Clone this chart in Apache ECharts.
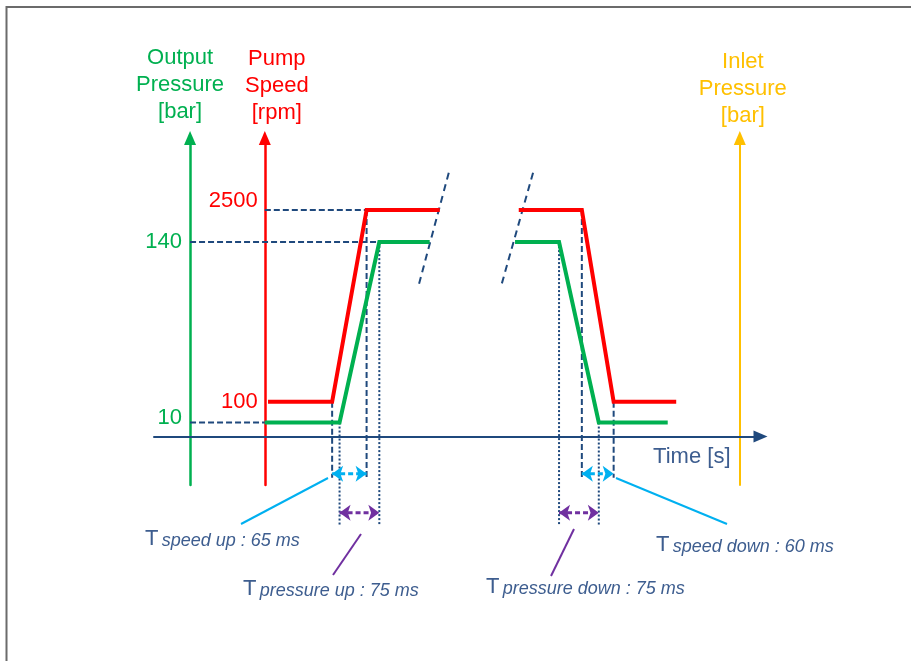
<!DOCTYPE html>
<html>
<head>
<meta charset="utf-8">
<script src="https://cdn.jsdelivr.net/npm/echarts@6/dist/echarts.min.js"></script>
<style>
  html, body { margin: 0; padding: 0; background: #fff; }
  #chart { width: 911px; height: 661px; }
</style>
</head>
<body>
<div id="chart"></div>
<script>
// ---- values (time in ms, speed in rpm, pressure in bar) ----
const timeRangeMs = [0, 1144];
const rampLabels = ['speed up', 'pressure up', 'pressure down', 'speed down'];
const rampStartMs = [336, 350, 764, 807];
const rampDurationMs = [65, 75, 75, 60];
const speedLevelsRpm = [100, 2500];
const pressureLevelsBar = [10, 140];
const speedSpanMs = [[215, 539], [688, 985]];     // extent of the start-up and shut-down speed traces
const pressureSpanMs = [[209, 520], [681, 969]];  // extent of the start-up and shut-down pressure traces
const axisAtMs = { pressure: 68, speed: 209, inlet: 1105 }; // where the vertical axes cross the time line
const breakMarks = [[[556, 190], [500, 110]], [[715, 190], [656, 110]]]; // "//" time break, in (ms, bar)

// ---- styling ----
const FONT = '"Liberation Sans", Arial, sans-serif';
const GREEN = '#00b050', RED = '#ff0000', AMBER = '#ffc000';
const NAVY = '#1f497d', CYAN = '#00b0f0', PURPLE = '#7030a0', INK = '#3d5d8f';
const W = 911, H = 661;
const GRID = { left: 154, right: 150.5, top: 138, bottom: 176 };
const gridW = W - GRID.left - GRID.right;
const tToX = t => GRID.left + (t - timeRangeMs[0]) / (timeRangeMs[1] - timeRangeMs[0]) * gridW;

// ---- traces built from the ramp timings ----
const [spLow, spHigh] = speedLevelsRpm;
const [prLow, prHigh] = pressureLevelsBar;
const rampEnd = i => rampStartMs[i] + rampDurationMs[i];

const speedRise = [[speedSpanMs[0][0], spLow], [rampStartMs[0], spLow], [rampEnd(0), spHigh], [speedSpanMs[0][1], spHigh]];
const speedFall = [[speedSpanMs[1][0], spHigh], [rampStartMs[3], spHigh], [rampEnd(3), spLow], [speedSpanMs[1][1], spLow]];
const pressRise = [[pressureSpanMs[0][0], prLow], [rampStartMs[1], prLow], [rampEnd(1), prHigh], [pressureSpanMs[0][1], prHigh]];
const pressFall = [[pressureSpanMs[1][0], prHigh], [rampStartMs[2], prHigh], [rampEnd(2), prLow], [pressureSpanMs[1][1], prLow]];

function line(yAxisIndex, data, lineStyle, extra) {
  return Object.assign({
    type: 'line', yAxisIndex, data, symbol: 'none', silent: true, clip: false,
    animation: false, lineStyle
  }, extra || {});
}

const guide = { color: NAVY, width: 2, type: [6, 3] };
const series = [
  // reference levels
  line(1, [[axisAtMs.speed, spHigh], [rampEnd(0), spHigh]], guide),
  line(0, [[axisAtMs.pressure, prHigh], [rampEnd(1), prHigh]], guide),
  line(0, [[axisAtMs.pressure, prLow], [pressureSpanMs[0][0], prLow]], guide),
  // time break
  ...breakMarks.map(m => line(0, m, { color: NAVY, width: 2, type: [7, 5] }))
];

// ramp duration markers: two drop lines and a double-headed arrow between them
rampLabels.forEach((lab, i) => {
  const isSpeed = lab.startsWith('speed');
  const rising = lab.endsWith('up');
  const yIdx = isSpeed ? 1 : 0;
  const lo = isSpeed ? spLow : prLow, hi = isSpeed ? spHigh : prHigh;
  const v0 = rising ? lo : hi, v1 = rising ? hi : lo;
  const bottom = isSpeed ? -850 : -64;
  const arrowAt = isSpeed ? -800 : -55;
  const vStyle = { color: NAVY, width: 2, type: isSpeed ? [6, 3] : [2, 2] };
  const color = isSpeed ? CYAN : PURPLE;
  series.push(line(yIdx, [[rampStartMs[i], v0], [rampStartMs[i], bottom]], vStyle));
  series.push(line(yIdx, [[rampEnd(i), v1], [rampEnd(i), bottom]], vStyle));
  series.push(line(yIdx, [
    { value: [rampStartMs[i], arrowAt], symbolRotate: 90 },
    { value: [rampEnd(i), arrowAt], symbolRotate: -90 }
  ], { color, width: 3, type: [5, 3] }, {
    symbol: 'arrow', symbolSize: [12, 11], showSymbol: true,
    itemStyle: { color }, z: 4
  }));
});

// measured traces on top
series.push(line(1, speedRise, { color: RED, width: 4, join: 'miter' }));
series.push(line(1, speedFall, { color: RED, width: 4, join: 'miter' }));
series.push(line(0, pressRise, { color: GREEN, width: 4, join: 'miter' }));
series.push(line(0, pressFall, { color: GREEN, width: 4, join: 'miter' }));

function vAxis(opts) {
  return Object.assign({
    type: 'value', splitLine: { show: false }, axisTick: { show: false },
    nameLocation: 'end'
  }, opts);
}

const axisName = (color, padding) => ({
  color, fontSize: 22, fontFamily: FONT, lineHeight: 27, padding
});

// annotation callouts
const callouts = [
  { text: rampLabels[0], ms: rampDurationMs[0], x: 145, y: 550, color: CYAN, from: [328, 478], to: [241, 524] },
  { text: rampLabels[1], ms: rampDurationMs[1], x: 243, y: 599.5, color: PURPLE, from: [361, 534], to: [333, 575] },
  { text: rampLabels[2], ms: rampDurationMs[2], x: 486, y: 597.5, color: PURPLE, from: [574, 529], to: [551, 576] },
  { text: rampLabels[3], ms: rampDurationMs[3], x: 656, y: 555.5, color: CYAN, from: [616, 478], to: [727, 524] }
];

const graphic = [
  { type: 'polyline', silent: true, shape: { points: [[6.5, H], [6.5, 7], [W, 7]] },
    style: { stroke: '#6b6b6b', lineWidth: 2, fill: null } }
];
callouts.forEach(c => {
  graphic.push({ type: 'line', silent: true,
    shape: { x1: c.from[0], y1: c.from[1], x2: c.to[0], y2: c.to[1] },
    style: { stroke: c.color, lineWidth: 2 } });
  graphic.push({ type: 'text', silent: true, x: c.x, y: c.y,
    style: {
      text: '{t|T} {i|' + c.text + ' : ' + c.ms + ' ms}',
      align: 'left', verticalAlign: 'bottom',
      rich: {
        t: { fontSize: 22, fontFamily: FONT, fill: INK, lineHeight: 22, verticalAlign: 'bottom' },
        i: { fontSize: 18, fontFamily: FONT, fontStyle: 'italic', fill: INK, lineHeight: 18, verticalAlign: 'bottom' }
      }
    } });
});

const option = {
  backgroundColor: '#fff',
  animation: false,
  grid: GRID,
  xAxis: {
    type: 'value', min: timeRangeMs[0], max: timeRangeMs[1],
    axisLine: { onZero: true, onZeroAxisIndex: 0, symbol: ['none', 'triangle'], symbolSize: [12, 14],
      lineStyle: { color: NAVY, width: 2 } },
    axisTick: { show: false }, axisLabel: { show: false }, splitLine: { show: false },
    name: 'Time [s]', nameLocation: 'end', nameGap: -30,
    nameTextStyle: { color: INK, fontSize: 22, fontFamily: FONT, align: 'right', verticalAlign: 'top', padding: [10, 0, 0, 0] }
  },
  yAxis: [
    vAxis({
      min: -35, max: 215, position: 'left', offset: -(tToX(axisAtMs.pressure) - GRID.left),
      axisLine: { show: true, onZero: false, symbol: ['none', 'triangle'], symbolSize: [12, 14],
        lineStyle: { color: GREEN, width: 2.5 } },
      axisLabel: {
        customValues: pressureLevelsBar, margin: 8, fontFamily: FONT,
        formatter: v => (v === prLow ? '{lo|' + v + '}' : '{n|' + v + '}'),
        rich: { lo: { color: GREEN, fontSize: 22, padding: [0, 0, 9, 0] }, n: { color: GREEN, fontSize: 22 } }
      },
      name: 'Output\nPressure\n[bar]', nameGap: 13, nameTextStyle: axisName(GREEN, [0, 20, 0, 0])
    }),
    vAxis({
      min: -940, max: 3400, position: 'left', offset: -(tToX(axisAtMs.speed) - GRID.left),
      axisLine: { show: true, onZero: false, symbol: ['none', 'triangle'], symbolSize: [12, 14],
        lineStyle: { color: RED, width: 2.5 } },
      axisLabel: {
        customValues: speedLevelsRpm, margin: 7, fontFamily: FONT,
        formatter: v => (v === spHigh ? '{hi|' + v + '}' : '{n|' + v + '}'),
        rich: { hi: { color: RED, fontSize: 22, padding: [0, 0, 18, 0] }, n: { color: RED, fontSize: 22 } }
      },
      name: 'Pump\nSpeed\n[rpm]', nameGap: 11.5, nameTextStyle: axisName(RED, [0, 0, 0, 24])
    }),
    vAxis({
      min: 0, max: 1, position: 'right', offset: -(GRID.left + gridW - tToX(axisAtMs.inlet)),
      axisLine: { show: true, onZero: false, symbol: ['none', 'triangle'], symbolSize: [12, 14],
        lineStyle: { color: AMBER, width: 2 } },
      axisLabel: { show: false },
      name: 'Inlet\nPressure\n[bar]', nameGap: 8.5, nameTextStyle: axisName(AMBER, [0, 0, 0, 6])
    })
  ],
  series,
  graphic
};

const chart = echarts.init(document.getElementById('chart'), null, { renderer: 'canvas' });
chart.setOption(option);
</script>
</body>
</html>
